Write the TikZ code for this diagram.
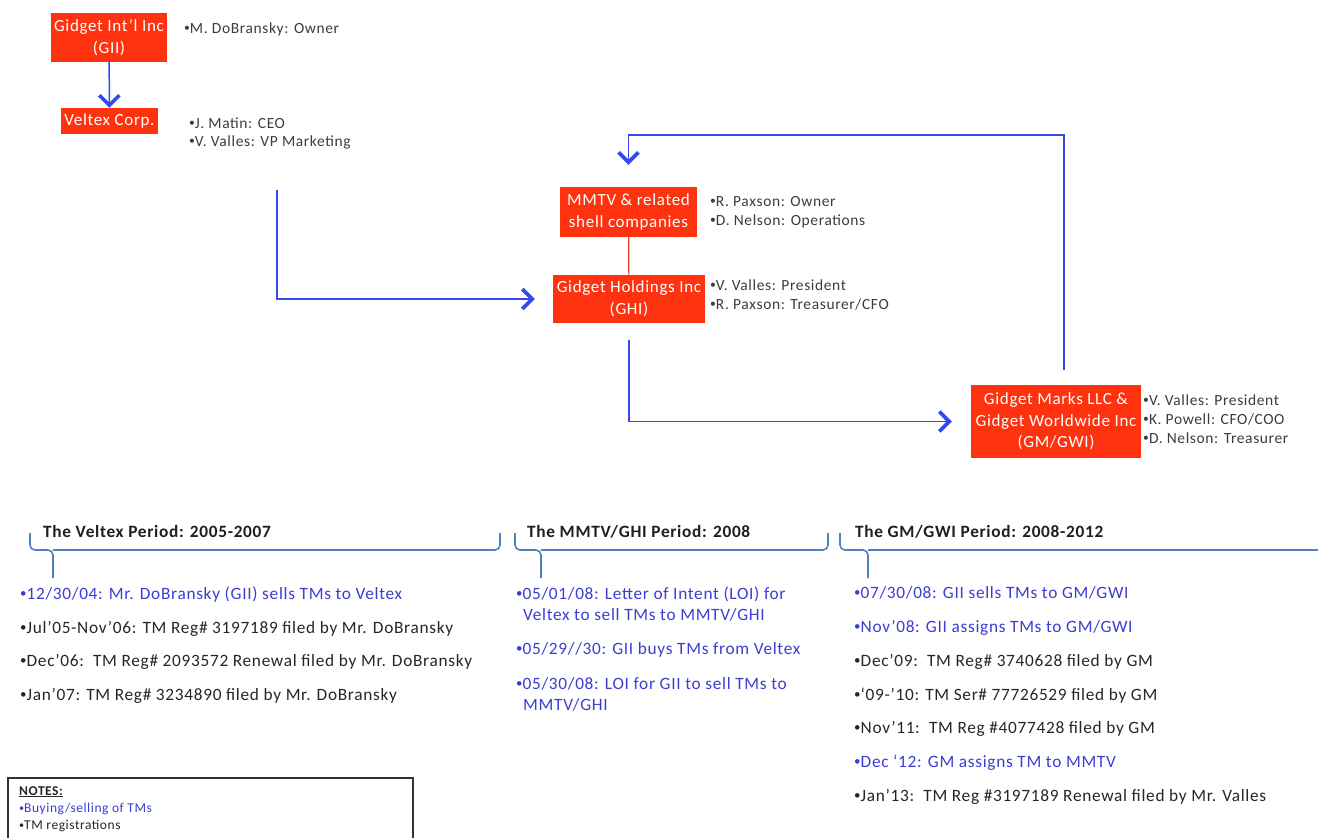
\documentclass[tikz,border=0pt]{standalone}
\usepackage{fontspec}
\setmainfont{Carlito}[LetterSpace=4]
\usepackage{tikz}
\usetikzlibrary{arrows.meta,positioning}
\definecolor{firmred}{RGB}{255,50,15}
\definecolor{linkred}{RGB}{225,65,45}
\definecolor{flowblue}{RGB}{50,75,232}
\definecolor{tmblue}{RGB}{60,60,210}
\definecolor{bracecol}{RGB}{79,129,189}
\definecolor{staffgrey}{RGB}{60,60,60}
\definecolor{regblack}{RGB}{38,38,38}
\newcommand{\firmfont}{\fontsize{17}{21.5}\selectfont}
\newcommand{\stafffont}{\fontsize{15.5}{19}\selectfont}
\newcommand{\listfont}{\fontsize{17.3}{21}\selectfont}
\newcommand{\notefont}{\fontsize{13.5}{17}\selectfont}
\newcommand{\bul}{\raisebox{0.15ex}{\scalebox{0.75}{•}}}
\tikzset{
  firm/.style={fill=firmred,text=white,inner sep=0pt,align=center,font=\firmfont},
  staff/.style={anchor=base west,inner sep=0pt,text=staffgrey,font=\stafffont},
  period/.style={anchor=base west,inner sep=0pt,text=black!88,font=\listfont\bfseries},
  sale/.style={anchor=base west,inner sep=0pt,text=tmblue,font=\listfont},
  filing/.style={anchor=base west,inner sep=0pt,text=regblack,font=\listfont},
  flow/.style={draw=flowblue,line width=1.5pt,-{Straight Barb[length=10pt,width=20pt,line width=3.6pt]}},
  brace/.style={draw=bracecol,line width=1.6pt,rounded corners=5pt},
}
\begin{document}
\begin{tikzpicture}[x=1pt,y=-1pt]
\useasboundingbox (0,0) rectangle (1318,838);
% companies
\node[firm,minimum width=116,minimum height=49] (GII) at (109,37.5) {Gidget Int’l Inc\\(GII)};
\node[firm,minimum width=97,minimum height=26] (Veltex) at (109.5,121) {Veltex Corp.};
\node[firm,minimum width=137,minimum height=50] (MMTV) at (628.5,212) {MMTV \& related\\shell companies};
\node[firm,minimum width=152,minimum height=48] (GHI) at (629,299) {Gidget Holdings Inc\\(GHI)};
\node[firm,minimum width=170,minimum height=73] (GM) at (1056,421.5) {Gidget Marks LLC \&\\Gidget Worldwide Inc\\(GM/GWI)};
% people
\node[staff] (GIIa) at (184,33) {\bul M. DoBransky: Owner};
\node[staff] (Veltexa) at (189,128) {\bul J. Matin: CEO};
\node[staff] (Veltexb) at (189,146) {\bul V. Valles: VP Marketing};
\node[staff] (MMTVa) at (710,206) {\bul R. Paxson: Owner};
\node[staff] (MMTVb) at (710,225) {\bul D. Nelson: Operations};
\node[staff] (GHIa) at (710,290) {\bul V. Valles: President};
\node[staff] (GHIb) at (710,309) {\bul R. Paxson: Treasurer/CFO};
\node[staff] (GMa) at (1143,405) {\bul V. Valles: President};
\node[staff] (GMb) at (1143,424) {\bul K. Powell: CFO/COO};
\node[staff] (GMc) at (1143,443) {\bul D. Nelson: Treasurer};
% transfers
\coordinate (veltexout) at (277,190);
\coordinate (looptop) at (628.5,135);
\draw[flow] (GII) -- (Veltex);
\draw[flow,shorten >=18pt] (veltexout) |- (GHI.west);
\draw[draw=linkred,line width=1.2pt] (MMTV) -- (GHI);
\draw[flow,shorten <=17pt,shorten >=19pt] (GHI.south) |- (GM.west);
\draw[flow,shorten <=15pt,shorten >=22pt] ([xshift=8pt]GM.north) |- (looptop) -- (MMTV.north);
% periods
\draw[brace] (30,533) |- (53,550) -- (53,578);
\draw[brace] (500,533) |- (53,550);
\draw[brace] (515,533) |- (541,550) -- (541,578);
\draw[brace] (828,533) |- (541,550);
\draw[brace] (840,533) |- (868,550) -- (868,578);
\draw[brace] (1325,550) -- (868,550);
\node[period] (P1) at (43,537) {The Veltex Period: 2005-2007};
\node[period] (P2) at (527,537) {The MMTV/GHI Period: 2008};
\node[period] (P3) at (855,537) {The GM/GWI Period: 2008-2012};
% Veltex period
\node[sale] (A1) at (20,599) {\bul 12/30/04: Mr. DoBransky (GII) sells TMs to Veltex};
\node[filing] (A2) at (20,633) {\bul Jul’05-Nov’06: TM Reg\# 3197189 filed by Mr. DoBransky};
\node[filing] (A3) at (20,666) {\bul Dec’06:\ \ TM Reg\# 2093572 Renewal filed by Mr. DoBransky};
\node[filing] (A4) at (20,700) {\bul Jan’07: TM Reg\# 3234890 filed by Mr. DoBransky};
% MMTV/GHI period
\node[sale] (B1) at (516,599) {\bul 05/01/08: Letter of Intent (LOI) for};
\node[sale] (B1b) at (523,620) {Veltex to sell TMs to MMTV/GHI};
\node[sale] (B2) at (516,654) {\bul 05/29//30: GII buys TMs from Veltex};
\node[sale] (B3) at (516,689) {\bul 05/30/08: LOI for GII to sell TMs to};
\node[sale] (B3b) at (523,710) {MMTV/GHI};
% GM/GWI period
\node[sale] (C1) at (854,598) {\bul 07/30/08: GII sells TMs to GM/GWI};
\node[sale] (C2) at (854,632) {\bul Nov’08: GII assigns TMs to GM/GWI};
\node[filing] (C3) at (854,666) {\bul Dec’09:\ \ TM Reg\# 3740628 filed by GM};
\node[filing] (C4) at (854,700) {\bul ‘09-’10: TM Ser\# 77726529 filed by GM};
\node[filing] (C5) at (854,733) {\bul Nov’11:\ \ TM Reg \#4077428 filed by GM};
\node[sale] (C6) at (854,767) {\bul Dec ‘12: GM assigns TM to MMTV};
\node[filing] (C7) at (854,801) {\bul Jan’13:\ \ TM Reg \#3197189 Renewal filed by Mr. Valles};
% notes
\node[draw=black!80,line width=1.3pt,minimum width=405,minimum height=70,inner sep=0pt] (notes) at (210.5,813) {};
\node[anchor=base west,inner sep=0pt,text=regblack,font=\notefont\bfseries] (N0) at (19,795) {\underline{NOTES:}};
\node[anchor=base west,inner sep=0pt,text=tmblue,font=\notefont] (N1) at (19,812) {\bul Buying/selling of TMs};
\node[anchor=base west,inner sep=0pt,text=regblack,font=\notefont] (N2) at (19,829) {\bul TM registrations};
\end{tikzpicture}
\end{document}
